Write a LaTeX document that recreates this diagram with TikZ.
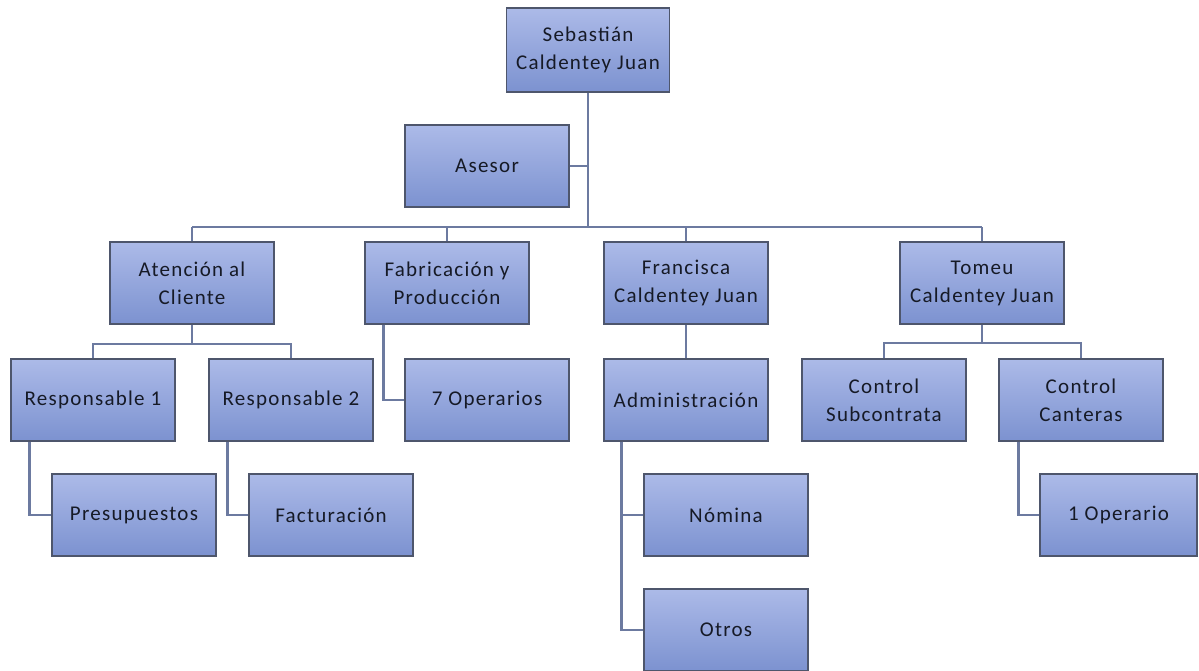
\documentclass[tikz,border=0pt]{standalone}
\usepackage{fontspec}
\setmainfont[LetterSpace=6]{Carlito}
\definecolor{boxtop}{RGB}{172,186,232}
\definecolor{boxbot}{RGB}{124,146,208}
\definecolor{boxline}{RGB}{78,86,108}
\definecolor{conncol}{RGB}{108,122,160}
\definecolor{txtcol}{RGB}{22,26,38}
\tikzset{
  orgbox/.style={draw=boxline, line width=1.3pt, top color=boxtop, bottom color=boxbot,
    minimum width=164pt, minimum height=82pt, inner sep=0pt, align=center,
    text=txtcol, font=\fontsize{21pt}{28pt}\selectfont},
  conn/.style={draw=conncol, line width=2.8pt}
}
\begin{document}
\begin{tikzpicture}[x=1pt,y=-1pt]
\useasboundingbox (0,0) rectangle (1199,671);
\fill[white] (0,0) rectangle (1199,671);
\coordinate (bus) at (589,227);
\coordinate (abus) at (192,344);
\coordinate (tbus) at (982,343);
% nodes
\node[orgbox, minimum width=163pt, minimum height=84pt] (seb) at (588,50) {Sebastián\\Caldentey Juan};
\node[orgbox] (ase) at (487,166) {Asesor};
\node[orgbox] (aten) at (192,283) {Atención al\\Cliente};
\node[orgbox] (fab) at (447,283) {Fabricación y\\Producción};
\node[orgbox] (fra) at (686,283) {Francisca\\Caldentey Juan};
\node[orgbox] (tom) at (982,283) {Tomeu\\Caldentey Juan};
\node[orgbox] (r1) at (93,400) {Responsable 1};
\node[orgbox] (r2) at (291,400) {Responsable 2};
\node[orgbox] (ope) at (487,400) {7 Operarios};
\node[orgbox] (adm) at (686,400) {Administración};
\node[orgbox] (csub) at (884,400) {Control\\Subcontrata};
\node[orgbox] (ccan) at (1081,400) {Control\\Canteras};
\node[orgbox] (pres) at (134,515) {Presupuestos};
\node[orgbox] (fact) at (331,515) {Facturación};
\node[orgbox] (nom) at (726,515) {Nómina};
\node[orgbox] (otr) at (726,630) {Otros};
\node[orgbox, minimum width=157pt] (op1) at (1118.5,515) {1 Operario};
% connectors
\path[conn] (seb.south) -- (seb.south |- bus);
\path[conn] (ase.east) -- (ase.east -| seb.south);
\path[conn] (aten.north |- bus) -- (tom.north |- bus);
\path[conn] (aten.north) -- (aten.north |- bus);
\path[conn] (fab.north) -- (fab.north |- bus);
\path[conn] (fra.north) -- (fra.north |- bus);
\path[conn] (tom.north) -- (tom.north |- bus);
\path[conn] (aten.south) -- (abus);
\path[conn] (r1.north) |- (abus) -| (r2.north);
\path[conn] (tom.south) -- (tbus);
\path[conn] (csub.north) |- (tbus) -| (ccan.north);
\path[conn] (fra.south) -- (adm.north);
\path[conn] ([xshift=19pt]r1.south west) |- (pres.west);
\path[conn] ([xshift=19pt]r2.south west) |- (fact.west);
\path[conn] ([xshift=19pt]fab.south west) |- (ope.west);
\path[conn] ([xshift=18pt]adm.south west) |- (nom.west);
\path[conn] ([xshift=18pt]adm.south west) |- (otr.west);
\path[conn] ([xshift=20pt]ccan.south west) |- (op1.west);
\end{tikzpicture}
\end{document}
